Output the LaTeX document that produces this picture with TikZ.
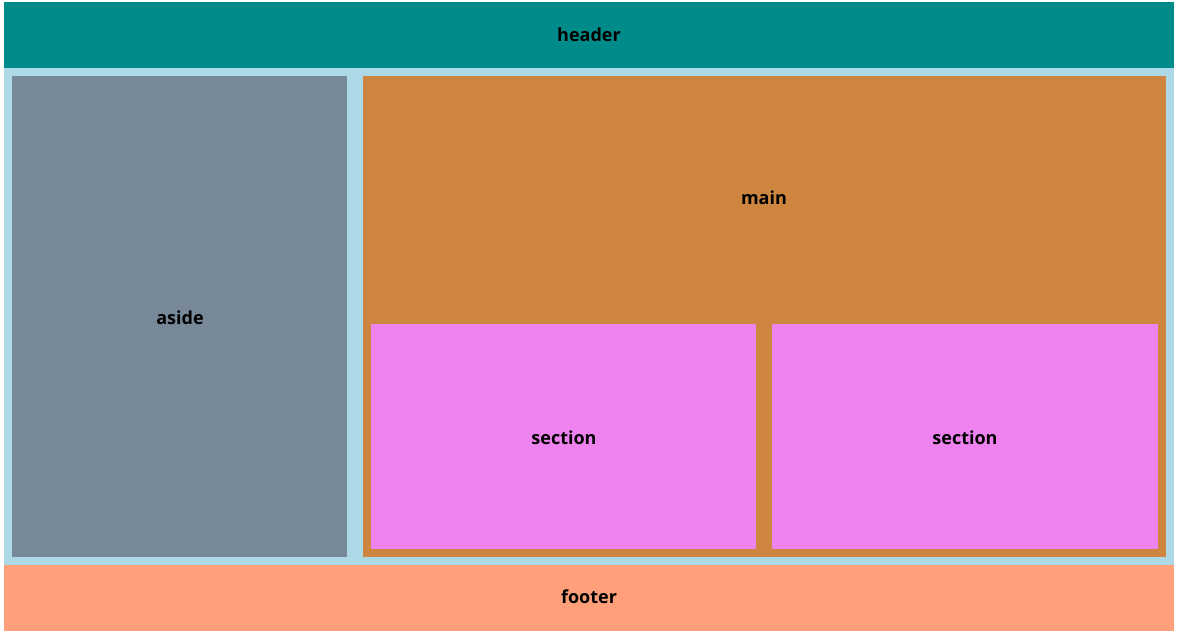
\documentclass[tikz,border=0pt]{standalone}
\usepackage{fontspec}
\setmainfont{Open Sans}
\definecolor{darkcyanfill}{HTML}{008B8B}
\definecolor{bodyfill}{HTML}{ADD8E6}
\definecolor{asidefill}{HTML}{778899}
\definecolor{mainfill}{HTML}{CD853F}
\definecolor{sectionfill}{HTML}{EE82EE}
\definecolor{footerfill}{HTML}{FFA07A}
\tikzset{
    boxlabel/.style={font=\fontsize{13.5}{16}\selectfont\bfseries, text=black, inner sep=0pt}
}
\begin{document}
\begin{tikzpicture}[x=0.75pt, y=-0.75pt]
                    % Page
                    \fill[white] (0, 0) rectangle (1178, 637);
                    \useasboundingbox (0, 0) rectangle (1178, 637);
                    % Header
                    \fill[darkcyanfill] (4, 2) rectangle (1174, 68);
                    % Body
                    \fill[bodyfill] (4, 68) rectangle (1174, 565);
                    \fill[asidefill] (12, 76) rectangle (347, 557);
                    \fill[mainfill] (363, 76) rectangle (1166, 557);
                    % Sections
                    \fill[sectionfill] (371, 324) rectangle (756, 549);
                    \fill[sectionfill] (772, 324) rectangle (1158, 549);
                    % Footer
                    \fill[footerfill] (4, 565) rectangle (1174, 631);
                    % Labels
                    \node[boxlabel] (header) at (589, 35) {header};
                    \node[boxlabel] (aside) at (180, 318) {aside};
                    \node[boxlabel] (main) at (764, 198) {main};
                    \node[boxlabel] (sectionleft) at (564, 438) {section};
                    \node[boxlabel] (sectionright) at (965, 438) {section};
                    \node[boxlabel] (footer) at (589, 597) {footer};
\end{tikzpicture}
\end{document}
